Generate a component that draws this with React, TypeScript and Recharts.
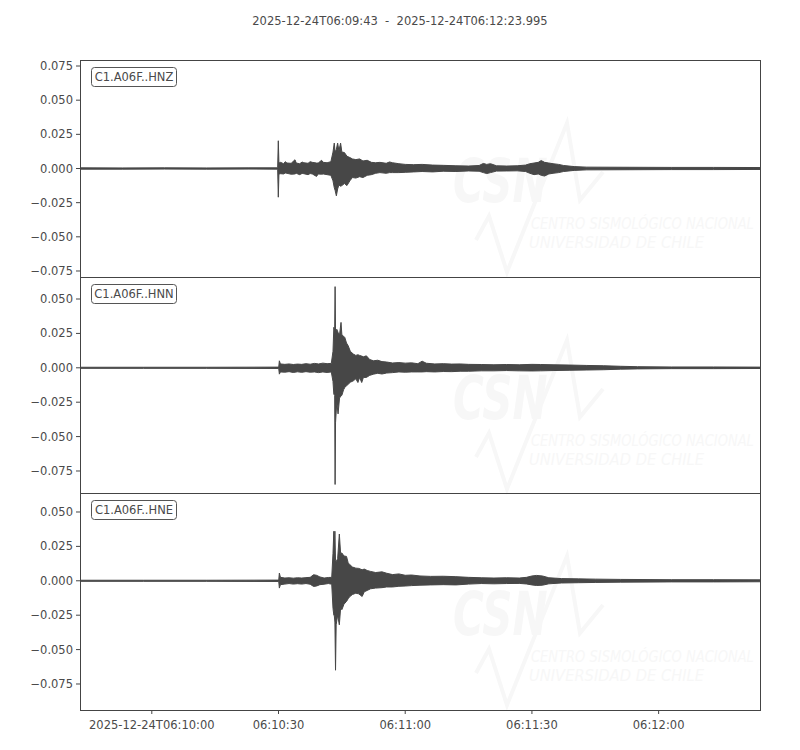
import React from 'react';
import { ComposedChart, Area, XAxis, YAxis } from 'recharts';

// time in seconds after 2025-12-24T06:09:43, [t, max, min] envelope of each trace
const hnzEnvelope: number[][] = [
  [0, 0.0005, -0.0005], [10, 0.0004, -0.0005], [20, 0.0005, -0.0004], [30, 0.0004, -0.0005], [40, 0.0005, -0.0004], [46.8, 0.0005, -0.0005],
  [46.95, 0.0203, -0.021], [47.1, 0.004, -0.004], [47.5, 0.0045, -0.0038], [48.2, 0.0035, -0.004], [48.6, 0.005, -0.0033], [49.0, 0.004, -0.0035],
  [50.0, 0.0038, -0.0042], [50.9, 0.0064, -0.004], [51.2, 0.004, -0.0035], [52.0, 0.0035, -0.0045], [52.6, 0.0047, -0.0036], [53.0, 0.0042, -0.0038],
  [54.0, 0.0038, -0.0045], [54.5, 0.005, -0.0037], [55.0, 0.0045, -0.004], [56.0, 0.004, -0.0058], [56.4, 0.004, -0.004], [57.2, 0.006, -0.0042],
  [57.6, 0.0045, -0.004], [58.5, 0.0042, -0.0045], [59.4, 0.005, -0.005], [59.9, 0.012, -0.009], [60.2, 0.0186, -0.014],
  [60.4, 0.012, -0.016], [60.7, 0.014, -0.02], [61.0, 0.0186, -0.015], [61.3, 0.013, -0.012], [61.7, 0.0186, -0.013],
  [62.0, 0.012, -0.0125], [62.6, 0.0117, -0.011], [63.2, 0.009, -0.0125], [63.9, 0.008, -0.009], [64.5, 0.007, -0.0066],
  [65.3, 0.0065, -0.007], [66.2, 0.007, -0.006], [67.0, 0.0055, -0.0066], [68.0, 0.006, -0.005], [69.0, 0.0045, -0.0045],
  [70.0, 0.0042, -0.0035], [71.0, 0.0045, -0.003], [72.5, 0.0038, -0.0035], [73.3, 0.0048, -0.003], [74.0, 0.0042, -0.003], [75.5, 0.0035, -0.003],
  [77.0, 0.003, -0.0028], [79.0, 0.0028, -0.0025], [81.0, 0.003, -0.0022], [83.5, 0.0025, -0.0025], [86.0, 0.0023, -0.002],
  [89.0, 0.002, -0.0022], [92.0, 0.0018, -0.0018], [94.5, 0.0022, -0.002], [95.5, 0.0037, -0.003], [96.3, 0.003, -0.0037],
  [97.2, 0.0035, -0.003], [98.6, 0.002, -0.0019], [101, 0.0018, -0.0018], [103.5, 0.002, -0.0017], [105.5, 0.0025, -0.0022],
  [106.5, 0.0035, -0.0035], [107.5, 0.004, -0.0045], [108.5, 0.0045, -0.004], [109.2, 0.0058, -0.005], [110.0, 0.0045, -0.0055],
  [111.0, 0.004, -0.004], [112.0, 0.0035, -0.0035], [113.3, 0.003, -0.003], [114.5, 0.0022, -0.0022], [117.0, 0.0014, -0.0014],
  [120, 0.001, -0.001], [130, 0.0009, -0.0009], [140, 0.0008, -0.0008], [150, 0.0008, -0.0008], [161, 0.0007, -0.0007],
];

const hnnEnvelope: number[][] = [
  [0, 0.0004, -0.0004], [15, 0.0004, -0.0004], [30, 0.0004, -0.0004], [47.05, 0.0005, -0.0005],
  [47.2, 0.0051, -0.0046], [47.45, 0.0028, -0.003], [48.5, 0.0025, -0.0032], [49.5, 0.0028, -0.0028], [50.5, 0.0024, -0.0034],
  [51.5, 0.0027, -0.0029], [52.5, 0.0025, -0.0033], [53.5, 0.003, -0.0028], [54.5, 0.0026, -0.0032], [55.5, 0.0032, -0.003],
  [56.5, 0.0028, -0.0035], [57.5, 0.0034, -0.003], [58.5, 0.003, -0.0034], [59.5, 0.0032, -0.003], [59.9, 0.012, -0.01],
  [60.1, 0.0294, -0.0192], [60.3, 0.027, -0.02], [60.4, 0.059, -0.0848], [60.5, 0.026, -0.04], [60.8, 0.028, -0.025],
  [61.1, 0.0257, -0.0335], [61.45, 0.024, -0.022], [61.8, 0.033, -0.0204], [62.0, 0.024, -0.02], [62.4, 0.023, -0.016],
  [62.7, 0.022, -0.0143], [63.1, 0.018, -0.013], [63.5, 0.016, -0.012], [64.0, 0.012, -0.0105], [64.7, 0.01, -0.0095],
  [65.3, 0.009, -0.008], [65.8, 0.0095, -0.0107], [66.2, 0.009, -0.007], [66.7, 0.0085, -0.0107], [67.1, 0.008, -0.007],
  [67.8, 0.0087, -0.007], [68.6, 0.006, -0.0055], [69.5, 0.0051, -0.0046], [70.5, 0.0055, -0.004], [71.5, 0.0045, -0.0045],
  [72.6, 0.0042, -0.0038], [74, 0.0035, -0.0035], [75.5, 0.0038, -0.003], [77, 0.0034, -0.0032], [78.5, 0.0036, -0.003],
  [80, 0.003, -0.003], [81, 0.0048, -0.003], [82, 0.0033, -0.0028], [84, 0.0028, -0.003], [86, 0.003, -0.0027],
  [88, 0.0027, -0.0028], [90, 0.0028, -0.0025], [92, 0.0025, -0.0025], [95, 0.0024, -0.0022], [98, 0.0022, -0.0022],
  [101, 0.0024, -0.002], [104, 0.0022, -0.0022], [107, 0.0025, -0.0023], [109, 0.0024, -0.0022], [112, 0.0022, -0.002],
  [116, 0.002, -0.0018], [120, 0.0017, -0.0016], [124, 0.0015, -0.0014], [128, 0.0011, -0.001], [132, 0.0008, -0.0008],
  [140, 0.0006, -0.0006], [150, 0.0006, -0.0006], [161, 0.0005, -0.0005],
];

const hneEnvelope: number[][] = [
  [0, 0.0004, -0.0004], [15, 0.0004, -0.0004], [30, 0.0004, -0.0004], [47.05, 0.0005, -0.0005],
  [47.2, 0.0056, -0.0053], [47.45, 0.0025, -0.0028], [48.5, 0.002, -0.0024], [49.5, 0.0022, -0.002], [50.5, 0.0019, -0.0024],
  [51.5, 0.0022, -0.0021], [52.5, 0.002, -0.0024], [53.5, 0.0023, -0.002], [54.5, 0.0025, -0.0025], [55.3, 0.0044, -0.0041],
  [56.0, 0.004, -0.0038], [56.8, 0.0028, -0.0028], [57.8, 0.002, -0.0025], [58.8, 0.0024, -0.002], [59.6, 0.0025, -0.0025],
  [59.9, 0.02, -0.02], [60.1, 0.036, -0.025], [60.2, 0.02, -0.025], [60.35, 0.036, -0.03], [60.5, 0.015, -0.065],
  [60.65, 0.014, -0.032], [61.0, 0.016, -0.025], [61.4, 0.034, -0.032], [61.7, 0.02, -0.02], [62.0, 0.0202, -0.021],
  [62.5, 0.018, -0.017], [63.1, 0.0177, -0.015], [63.5, 0.013, -0.013], [63.9, 0.0117, -0.0114], [64.5, 0.01, -0.01],
  [65.3, 0.0092, -0.009], [66.0, 0.009, -0.0095], [66.8, 0.008, -0.0114], [67.3, 0.0085, -0.008], [68.0, 0.0075, -0.007],
  [68.8, 0.0068, -0.0058], [70, 0.006, -0.0053], [71.5, 0.0065, -0.005], [72.6, 0.0055, -0.0045], [74, 0.0045, -0.0045],
  [75.5, 0.005, -0.004], [77, 0.004, -0.0038], [78.5, 0.0042, -0.0035], [80.5, 0.0035, -0.0032], [83, 0.0032, -0.003],
  [86, 0.0033, -0.0028], [89, 0.003, -0.003], [92, 0.0025, -0.0024], [95, 0.0022, -0.002], [98, 0.002, -0.0022],
  [101, 0.0022, -0.002], [104, 0.002, -0.0019], [105.7, 0.0025, -0.0023], [107, 0.0035, -0.003], [108.1, 0.0039, -0.0034],
  [109.5, 0.0035, -0.0032], [111, 0.0022, -0.0022], [114, 0.0016, -0.0016], [118, 0.0014, -0.0014], [122, 0.0012, -0.0012],
  [128, 0.001, -0.001], [140, 0.0008, -0.0008], [150, 0.0008, -0.0008], [161, 0.0007, -0.0007],
];

const channelNames = ['C1.A06F..HNZ', 'C1.A06F..HNN', 'C1.A06F..HNE'];
const titleText = '2025-12-24T06:09:43  -  2025-12-24T06:12:23.995';
const xTicks = [17, 47, 77, 107, 137];
const xTickLabels = ['2025-12-24T06:10:00', '06:10:30', '06:11:00', '06:11:30', '06:12:00'];
const yTicksZ = [-0.075, -0.05, -0.025, 0, 0.025, 0.05, 0.075];
const yTicksNE = [-0.075, -0.05, -0.025, 0, 0.025, 0.05];
const yDomains = [[-0.0794, 0.0794], [-0.091, 0.066], [-0.0939, 0.0638]];

const INK = '#444444';
const TXT = '#4a4a4a';
const FONT = 'DejaVu Sans, sans-serif';

const fmtY = (v: number) => (v < 0 ? '\u2212' : '') + Math.abs(v).toFixed(3);
const fmtX = (v: number) => {
  const i = xTicks.indexOf(v);
  return i >= 0 ? xTickLabels[i] : '';
};

const toRows = (env: number[][]) => env.map((p) => ({ t: p[0], range: [p[2], p[1]] }));

const panels = [
  { top: 60, h: 217, env: hnzEnvelope, ticks: yTicksZ, dom: yDomains[0] },
  { top: 277, h: 216, env: hnnEnvelope, ticks: yTicksNE, dom: yDomains[1] },
  { top: 493, h: 217, env: hneEnvelope, ticks: yTicksNE, dom: yDomains[2] },
];

function Watermark({ dy }: { dy: number }) {
  const c = '#f7f7f7';
  return (
    <g transform={`translate(0, ${dy})`}>
      <polyline points="476,240 489,216 507,272 567,123 580,200 603,172" fill="none" stroke={c} strokeWidth={4} strokeLinejoin="miter" />
      <g transform="translate(453, 202) scale(0.7, 1)">
        <text x={0} y={0} fontFamily={FONT} fontWeight="bold" fontStyle="italic" fontSize={60} fill={c}>CSN</text>
      </g>
      <g transform="translate(531, 229) scale(0.87, 1)">
        <text x={0} y={0} fontFamily={FONT} fontStyle="italic" fontSize={15} fill={c}>CENTRO SISMOLÓGICO NACIONAL</text>
      </g>
      <g transform="translate(529, 248) scale(0.98, 1)">
        <text x={0} y={0} fontFamily={FONT} fontStyle="italic" fontSize={15} fill={c}>UNIVERSIDAD DE CHILE</text>
      </g>
    </g>
  );
}

export default function App() {
  return (
    <div style={{ position: 'absolute', left: 0, top: 0, width: 800, height: 750, background: '#fff', fontFamily: FONT }}>
      <svg width={800} height={750} style={{ position: 'absolute', left: 0, top: 0 }}>
        <Watermark dy={0} />
        <Watermark dy={217} />
        <Watermark dy={433} />
      </svg>
      {panels.map((p, i) => {
        const bottom = i === panels.length - 1;
        return (
          <div key={i} style={{ position: 'absolute', left: 0, top: p.top }}>
            <ComposedChart width={800} height={p.h + (bottom ? 32 : 0)} data={toRows(p.env)} margin={{ top: 0, right: 40, bottom: 0, left: 0 }}>
              <XAxis
                type="number"
                dataKey="t"
                domain={[0, 161]}
                allowDataOverflow
                ticks={xTicks}
                tickFormatter={fmtX}
                hide={!bottom}
                height={32}
                axisLine={false}
                tickLine={{ stroke: INK }}
                tickSize={4}
                tickMargin={7}
                interval={0}
                tick={{ fill: TXT, fontSize: 11.5, fontFamily: FONT }}
              />
              <YAxis
                type="number"
                domain={p.dom}
                allowDataOverflow
                ticks={p.ticks}
                tickFormatter={fmtY}
                width={80}
                axisLine={false}
                tickLine={{ stroke: INK }}
                tickSize={4}
                tickMargin={3}
                interval={0}
                tick={{ fill: TXT, fontSize: 11.5, fontFamily: FONT }}
              />
              <Area
                type="linear"
                dataKey="range"
                stroke="#474747"
                strokeWidth={1}
                fill="#474747"
                fillOpacity={1}
                isAnimationActive={false}
                dot={false}
                activeDot={false}
              />
            </ComposedChart>
          </div>
        );
      })}
      {panels.map((p, i) => (
        <div
          key={'b' + i}
          style={{
            position: 'absolute',
            left: 80,
            top: p.top,
            width: 681,
            height: p.h + 1,
            border: `1px solid ${INK}`,
            boxSizing: 'border-box',
            pointerEvents: 'none',
          }}
        />
      ))}
      <svg width={800} height={750} style={{ position: 'absolute', left: 0, top: 0, pointerEvents: 'none' }}>
        <text x={400} y={25} textAnchor="middle" fontFamily={FONT} fontSize={11.5} fill={TXT} style={{ whiteSpace: 'pre' }}>{titleText}</text>
        {panels.map((p, i) => (
          <g key={'l' + i}>
            <rect x={91.5} y={p.top + 7.5} width={85} height={19} rx={3} ry={3} fill="#fff" stroke="#555" strokeWidth={1} />
            <text x={134} y={p.top + 21} textAnchor="middle" fontFamily={FONT} fontSize={11.5} fill={TXT}>{channelNames[i]}</text>
          </g>
        ))}
      </svg>
    </div>
  );
}
